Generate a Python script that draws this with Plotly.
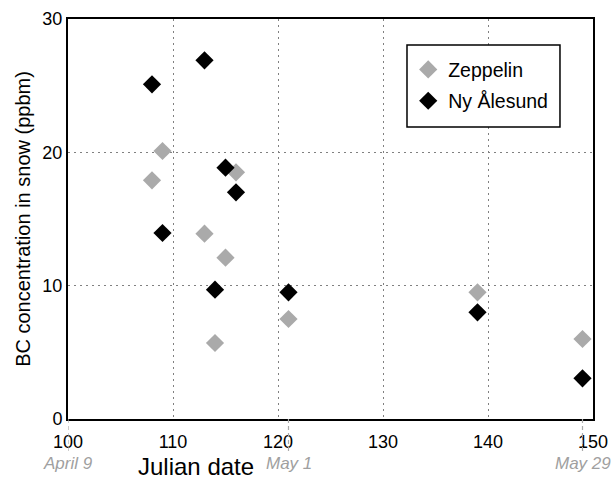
import plotly.graph_objects as go

# ---- data ----
days = [108, 109, 113, 114, 115, 116, 121, 139, 149]
zeppelin = [17.9, 20.1, 13.9, 5.7, 12.1, 18.5, 7.5, 9.5, 6.0]
ny_alesund = [25.1, 13.95, 26.9, 9.7, 18.85, 17.0, 9.5, 8.0, 3.05]

x_ticks = [100, 110, 120, 130, 140, 150]
y_ticks = [0, 10, 20, 30]
date_tick_days = [100, 121, 149]
date_tick_labels = ["April 9", "May 1", "May 29"]

FONT = "Arial, Liberation Sans, sans-serif"

fig = go.Figure()
fig.add_trace(go.Scatter(
    x=days, y=zeppelin, mode="markers", name="Zeppelin", legendgroup="a",
    marker=dict(symbol="diamond", size=14, color="#aaaaaa", line=dict(width=0)),
))
fig.add_trace(go.Scatter(
    x=days, y=ny_alesund, mode="markers", name="Ny Ålesund", legendgroup="b",
    marker=dict(symbol="diamond", size=14, color="#000000", line=dict(width=0)),
))

annotations = [dict(
    text="Julian date", x=0.244, y=-0.118, xref="paper", yref="paper",
    xanchor="center", yanchor="middle", showarrow=False,
    font=dict(family=FONT, size=24, color="black"),
)]
shapes = [dict(  # legend frame
    type="rect", xref="paper", yref="paper",
    x0=0.6457, x1=0.9371, y0=0.73, y1=0.935,
    line=dict(color="black", width=1.5), fillcolor="white", layer="above",
)]
for d, lab in zip(date_tick_days, date_tick_labels):
    annotations.append(dict(
        text="<i>" + lab + "</i>", x=d, y=-0.11, xref="x", yref="paper",
        xanchor="center", yanchor="middle", showarrow=False,
        font=dict(family=FONT, size=17, color="#a0a0a0"),
    ))
    shapes.append(dict(
        type="line", x0=d, x1=d, y0=0, y1=-0.085, xref="x", yref="paper",
        line=dict(color="#aaaaaa", width=1.2, dash="4px,3px"),
    ))

fig.update_layout(
    width=613, height=481,
    margin=dict(l=68, r=20, t=19, b=62, autoexpand=False),
    paper_bgcolor="white", plot_bgcolor="white",
    font=dict(family=FONT, size=17, color="black"),
    showlegend=True,
    legend=dict(
        x=0.648, y=0.922, xanchor="left", yanchor="top",
        bgcolor="rgba(0,0,0,0)", borderwidth=0,
        font=dict(family=FONT, size=19.5, color="black"),
        traceorder="grouped", tracegroupgap=3,
        itemwidth=30,
    ),
    annotations=annotations,
    shapes=shapes,
)
fig.update_xaxes(
    range=[100, 150], tickvals=x_ticks, ticktext=[str(v) for v in x_ticks],
    showgrid=True, gridcolor="#808080", gridwidth=1.3, griddash="2px,4px",
    showline=True, linecolor="black", linewidth=2, mirror=True,
    ticks="", ticklabelstandoff=5, zeroline=False, automargin=False,
    tickfont=dict(family=FONT, size=18, color="black"),
)
fig.update_yaxes(
    range=[0, 30], tickvals=y_ticks, ticktext=[str(v) for v in y_ticks],
    showgrid=True, gridcolor="#808080", gridwidth=1.3, griddash="2px,4px",
    showline=True, linecolor="black", linewidth=2, mirror=True,
    ticks="", zeroline=False, automargin=False,
    tickfont=dict(family=FONT, size=18, color="black"),
    title=dict(text="BC concentration in snow (ppbm)", standoff=6,
               font=dict(family=FONT, size=20, color="black")),
)
fig.write_html("out.html",
               config={"displayModeBar": False},
               post_script="document.body.style.margin='0';document.body.style.overflow='hidden';")
